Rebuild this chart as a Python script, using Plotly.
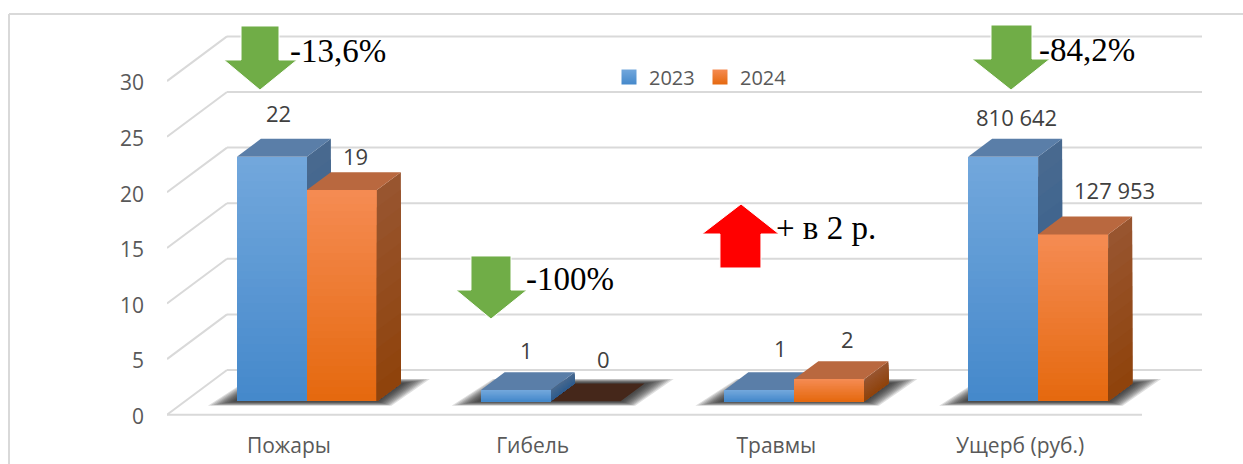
import plotly.graph_objects as go

categories = ["Пожары", "Гибель", "Травмы", "Ущерб (руб.)"]
series_names = ["2023", "2024"]
values_2023 = [22, 1, 1, 22]
values_2024 = [19, 0, 2, 15]
labels_2023 = ["22", "1", "1", "810 642"]
labels_2024 = ["19", "0", "2", "127 953"]
y_ticks = [0, 5, 10, 15, 20, 25, 30]

# ---- scales (page geometry) ----
W, H = 1243, 464
ML, MB = 167, 38
PX_X, PX_Y = 243.75, 11.12          # pixels per category / per value unit
Y0_PX = 414.7                       # page y of value 0 on the front edge
XR = [-0.5, -0.5 + (W - ML) / PX_X]
YR = [-(H - MB - Y0_PX) / PX_Y, Y0_PX / PX_Y]
WALL_DX, WALL_DY = 60 / PX_X, 4.02  # full floor depth in data units
Z_FRONT, Z_DEPTH = 0.3, 0.4         # bars stand from 30 % to 70 % of the floor
BAR_W = 70 / PX_X
GRID = "#D9D9D9"
TEXT = "#595959"
SANS = "Open Sans"
SERIF = "Liberation Serif"
TICK_SIZE = 21
LABEL_SIZE = 22


def px(x):
    return (x - ML) / (W - ML)


def py(y):
    return (H - MB - y) / (H - MB)


def lerp(c1, c2, t):
    a = [int(c1[i:i + 2], 16) for i in (1, 3, 5)]
    b = [int(c2[i:i + 2], 16) for i in (1, 3, 5)]
    return "#%02x%02x%02x" % tuple(round(p + (q - p) * t) for p, q in zip(a, b))


def path(points):
    return "M" + " L".join(f"{x:.4f},{y:.4f}" for x, y in points) + " Z"


below, above = [], []


def poly(target, points, color, opacity=1.0):
    target.append(dict(type="path", path=path(points), xref="x", yref="y", fillcolor=color, opacity=opacity,
                       line=dict(width=0), layer="above" if target is above else "below"))


# ---- frame ----
for a, b, c, d in [(9, 14, 9, H), (9, 14, W, 14)]:
    below.append(dict(type="line", xref="paper", yref="paper", x0=px(a), y0=py(b), x1=px(c), y1=py(d),
                      line=dict(color=GRID, width=2), layer="below"))

# ---- walls ----
GRID_W = 2
for v in y_ticks:
    below.append(dict(type="line", xref="x", yref="y", x0=-0.5, y0=v, x1=-0.5 + WALL_DX, y1=v + WALL_DY,
                      line=dict(color=GRID, width=GRID_W), layer="below"))
    below.append(dict(type="line", xref="x", yref="y", x0=-0.5 + WALL_DX, y0=v + WALL_DY,
                      x1=3.5 + WALL_DX, y1=v + WALL_DY, line=dict(color=GRID, width=GRID_W), layer="below"))
below.append(dict(type="line", xref="x", yref="y", x0=-0.5, y0=0, x1=3.5, y1=0,
                  line=dict(color=GRID, width=GRID_W), layer="below"))

shift = Z_FRONT * WALL_DX
floor_y = Z_FRONT * WALL_DY
ddx, ddy = Z_DEPTH * WALL_DX, Z_DEPTH * WALL_DY

# ---- soft floor shadows ----
SHADOW_LAYERS = 10
for i in range(len(categories)):
    xl = i + shift - BAR_W
    xr = i + shift + BAR_W
    for k in range(SHADOW_LAYERS):
        f = 1 - k / SHADOW_LAYERS
        ex = (28 * f + 1) / PX_X
        ey = (4.5 * f) / PX_Y
        poly(below, [(xl - ex, floor_y - ey), (xr + ex * 0.5, floor_y - ey),
                     (xr + ddx + ex, floor_y + ddy + ey), (xl + ddx - ex * 0.4, floor_y + ddy + ey)],
             "#202020", 0.15)

# ---- side and top faces ----
SIDE_STEPS = 12
STYLE = {
    "2023": dict(front=("#72A7DC", "#4589CB"), side=("#48698F", "#2F5C8D"), top="#5A7EA8"),
    "2024": dict(front=("#F58B52", "#E5690F"), side=("#98552F", "#8F430C"), top="#B9683F"),
}


def faces(target, i, v, left, st):
    right = left + BAR_W
    top = floor_y + v
    if v == 0:
        poly(below, [(left, floor_y), (right, floor_y), (right + ddx, floor_y + ddy), (left + ddx, floor_y + ddy)],
             "#45271A")
        return
    for s in range(SIDE_STEPS):
        t = s / (SIDE_STEPS - 1)
        yt = floor_y + v * (1 - s / SIDE_STEPS)
        poly(target, [(right, floor_y), (right + ddx, floor_y + ddy), (right + ddx, yt + ddy), (right, yt)],
             lerp(st["side"][0], st["side"][1], t))
    poly(target, [(left, top), (right, top), (right + ddx, top + ddy), (left + ddx, top + ddy)], st["top"])


for i, v in enumerate(values_2024):
    if v == 0:
        faces(below, i, v, i + shift, STYLE["2024"])
for i, v in enumerate(values_2023):
    faces(below, i, v, i + shift - BAR_W, STYLE["2023"])
for i, v in enumerate(values_2024):
    if v != 0:
        faces(above, i, v, i + shift, STYLE["2024"])

# ---- callout arrows (page pixels) ----
ARROW_GREEN = "#70AD47"
ARROW_RED = "#FF0000"


def arrow(sl, sr, sy, hl, hr, hy, tx, ty, color):
    pts = [(sl, sy), (sr, sy), (sr, hy), (hr, hy), (tx, ty), (hl, hy), (sl, hy)]
    above.append(dict(type="path", xref="paper", yref="paper",
                      path=path([(px(a), py(b)) for a, b in pts]), fillcolor=color,
                      line=dict(color="white", width=1), layer="above"))


arrow(241, 279, 26, 224, 297, 60, 260, 90, ARROW_GREEN)
arrow(471, 511, 256, 456, 527, 290, 491, 319, ARROW_GREEN)
arrow(991, 1032, 25, 972, 1050, 59, 1011, 90, ARROW_GREEN)
arrow(720, 761, 268, 702, 779, 234, 741, 204, ARROW_RED)

# ---- figure ----
fig = go.Figure()
GRAD_STEPS = 30
for name, vals in zip(series_names, (values_2023, values_2024)):
    st = STYLE[name]
    off = shift - BAR_W if name == "2023" else shift
    xs = [i + off + BAR_W / 2 for i in range(len(categories))]
    fig.add_trace(go.Bar(x=xs, y=vals, base=floor_y, width=BAR_W, name=name, showlegend=False,
                         marker=dict(color=st["front"][0], line=dict(width=0)), hoverinfo="skip"))
    gx, gy, gc = [], [], []
    for s in range(GRAD_STEPS):
        for x, v in zip(xs, vals):
            gx.append(x)
            gy.append(v * (1 - s / GRAD_STEPS))
            gc.append(lerp(st["front"][0], st["front"][1], s / (GRAD_STEPS - 1)))
    fig.add_trace(go.Bar(x=gx, y=gy, base=floor_y, width=BAR_W, showlegend=False,
                         marker=dict(color=gc, line=dict(width=0)), hoverinfo="skip"))
    fig.add_trace(go.Scatter(x=[None], y=[None], mode="markers", name=name,
                             marker=dict(symbol="square", size=15, color=st["front"][0],
                                         gradient=dict(type="vertical", color=st["front"][1]),
                                         line=dict(width=0))))

# ---- data labels (pixel nudges from the centre of each bar's back top edge) ----
label_shift_2023 = [(-17, 26), (-13, 22), (-3, 24), (-11, 22)]
label_shift_2024 = [(-10, 16), (-6, 24), (-6, 22), (17, 27)]
annotations = []
for i, (v, t, s) in enumerate(zip(values_2023, labels_2023, label_shift_2023)):
    annotations.append(dict(x=i + shift - BAR_W / 2 + ddx, y=floor_y + v + ddy, xref="x", yref="y", text=t,
                            showarrow=False, xshift=s[0], yshift=s[1],
                            font=dict(family=SANS, size=LABEL_SIZE, color="#404040")))
for i, (v, t, s) in enumerate(zip(values_2024, labels_2024, label_shift_2024)):
    annotations.append(dict(x=i + shift + BAR_W / 2 + ddx, y=floor_y + v + ddy, xref="x", yref="y", text=t,
                            showarrow=False, xshift=s[0], yshift=s[1],
                            font=dict(family=SANS, size=LABEL_SIZE, color="#404040")))

callouts = [("-13,6%", 290, 51), ("-100%", 526, 279), ("+ в 2 р.", 776, 228), ("-84,2%", 1039, 50)]
for t, x, y in callouts:
    annotations.append(dict(x=px(x), y=py(y), xref="paper", yref="paper", text=t, showarrow=False,
                            xanchor="left", yanchor="middle", xshift=-2,
                            font=dict(family=SERIF, size=33, color="black")))

fig.update_layout(
    width=W, height=H, margin=dict(l=ML, r=0, t=0, b=MB, autoexpand=False),
    paper_bgcolor="white", plot_bgcolor="rgba(0,0,0,0)",
    barmode="overlay", bargap=0,
    shapes=below + above, annotations=annotations,
    legend=dict(orientation="h", x=px(609), y=py(77), xanchor="left", yanchor="middle",
                bgcolor="rgba(0,0,0,0)", itemwidth=30, entrywidth=46, entrywidthmode="pixels",
                font=dict(family=SANS, size=20, color=TEXT), traceorder="normal",
                itemclick=False, itemdoubleclick=False),
    xaxis=dict(range=XR, tickmode="array", tickvals=list(range(len(categories))), ticktext=categories,
               showgrid=False, zeroline=False, showline=False, ticks="", ticklabelstandoff=5,
               tickfont=dict(family=SANS, size=TICK_SIZE, color=TEXT), fixedrange=True),
    yaxis=dict(range=YR, tickmode="array", tickvals=y_ticks, showgrid=False, zeroline=False, showline=False,
               ticks="", ticklabelstandoff=22, ticklabelshift=2,
               tickfont=dict(family=SANS, size=TICK_SIZE, color=TEXT), fixedrange=True),
    hovermode=False,
)

fig.write_html("out.html", config=dict(displayModeBar=False),
               post_script="document.body.style.margin='0';document.body.style.overflow='hidden';")
